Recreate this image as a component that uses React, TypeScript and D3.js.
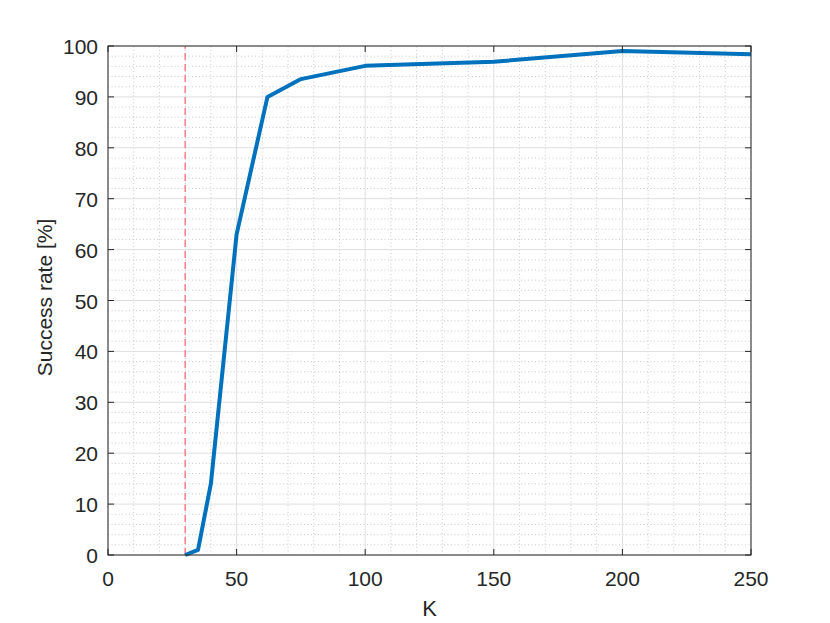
import React from "react";
import * as d3 from "d3";

const kValues = [30, 35, 40, 50, 62, 75, 100, 150, 200, 250];
const successRates = [0, 1, 14, 63, 90, 93.5, 96.1, 96.9, 99, 98.4];
const xTicks = [0, 50, 100, 150, 200, 250];
const yTicks = [0, 10, 20, 30, 40, 50, 60, 70, 80, 90, 100];
const thresholdK = 30;

const W = 830, H = 623;
const M = { left: 108, right: 79, top: 46, bottom: 68 };

export default function App() {
  const x = d3.scaleLinear().domain([0, 250]).range([M.left, W - M.right]);
  const y = d3.scaleLinear().domain([0, 100]).range([H - M.bottom, M.top]);
  const xMinor = d3.range(0, 251, 10).filter((v) => v % 50 !== 0);
  const yMinor = d3.range(0, 101, 2).filter((v) => v % 10 !== 0);
  const line = d3.line<number>().x((_, i) => x(kValues[i])).y((d) => y(d));
  const [x0, x1] = x.range();
  const [y0, y1] = y.range();
  const axisColor = "#262626";
  const font = "'Liberation Sans', Arial, sans-serif";
  return (
    <svg width={W} height={H} style={{ position: "absolute", left: 0, top: 0 }}>
      <rect width={W} height={H} fill="#fff" />
      {xMinor.map((v) => (
        <line key={"xm" + v} x1={x(v)} x2={x(v)} y1={y0} y2={y1} stroke="#bdbdbd" strokeWidth={0.8} strokeDasharray="1,2.5" />
      ))}
      {yMinor.map((v) => (
        <line key={"ym" + v} x1={x0} x2={x1} y1={y(v)} y2={y(v)} stroke="#bdbdbd" strokeWidth={0.8} strokeDasharray="1,2.5" />
      ))}
      {xTicks.map((v) => (
        <line key={"xg" + v} x1={x(v)} x2={x(v)} y1={y0} y2={y1} stroke="#dfdfdf" strokeWidth={1} />
      ))}
      {yTicks.map((v) => (
        <line key={"yg" + v} x1={x0} x2={x1} y1={y(v)} y2={y(v)} stroke="#dfdfdf" strokeWidth={1} />
      ))}
      <line x1={x(thresholdK)} x2={x(thresholdK)} y1={y(0)} y2={y(100)} stroke="#ff6b7a" strokeWidth={1.3} strokeDasharray="7,4" />
      <path d={line(successRates) || ""} fill="none" stroke="#0072BD" strokeWidth={4} strokeLinejoin="round" />
      <rect x={x0} y={y1} width={x1 - x0} height={y0 - y1} fill="none" stroke={axisColor} strokeWidth={1} />
      {xTicks.map((v) => (
        <g key={"xt" + v}>
          <line x1={x(v)} x2={x(v)} y1={y0} y2={y0 - 6} stroke={axisColor} />
          <line x1={x(v)} x2={x(v)} y1={y1} y2={y1 + 6} stroke={axisColor} />
          <text x={x(v)} y={y0 + 31} textAnchor="middle" fontSize={21} fontFamily={font} fill={axisColor}>{v}</text>
        </g>
      ))}
      {yTicks.map((v) => (
        <g key={"yt" + v}>
          <line x1={x0} x2={x0 + 6} y1={y(v)} y2={y(v)} stroke={axisColor} />
          <line x1={x1} x2={x1 - 6} y1={y(v)} y2={y(v)} stroke={axisColor} />
          <text x={x0 - 10} y={y(v) + 8} textAnchor="end" fontSize={21} fontFamily={font} fill={axisColor}>{v}</text>
        </g>
      ))}
      <text x={(x0 + x1) / 2} y={616} textAnchor="middle" fontSize={22} fontFamily={font} fill={axisColor}>K</text>
      <text transform={`translate(52,${(y0 + y1) / 2 - 3}) rotate(-90)`} textAnchor="middle" fontSize={21} fontFamily={font} fill={axisColor}>Success rate [%]</text>
    </svg>
  );
}
